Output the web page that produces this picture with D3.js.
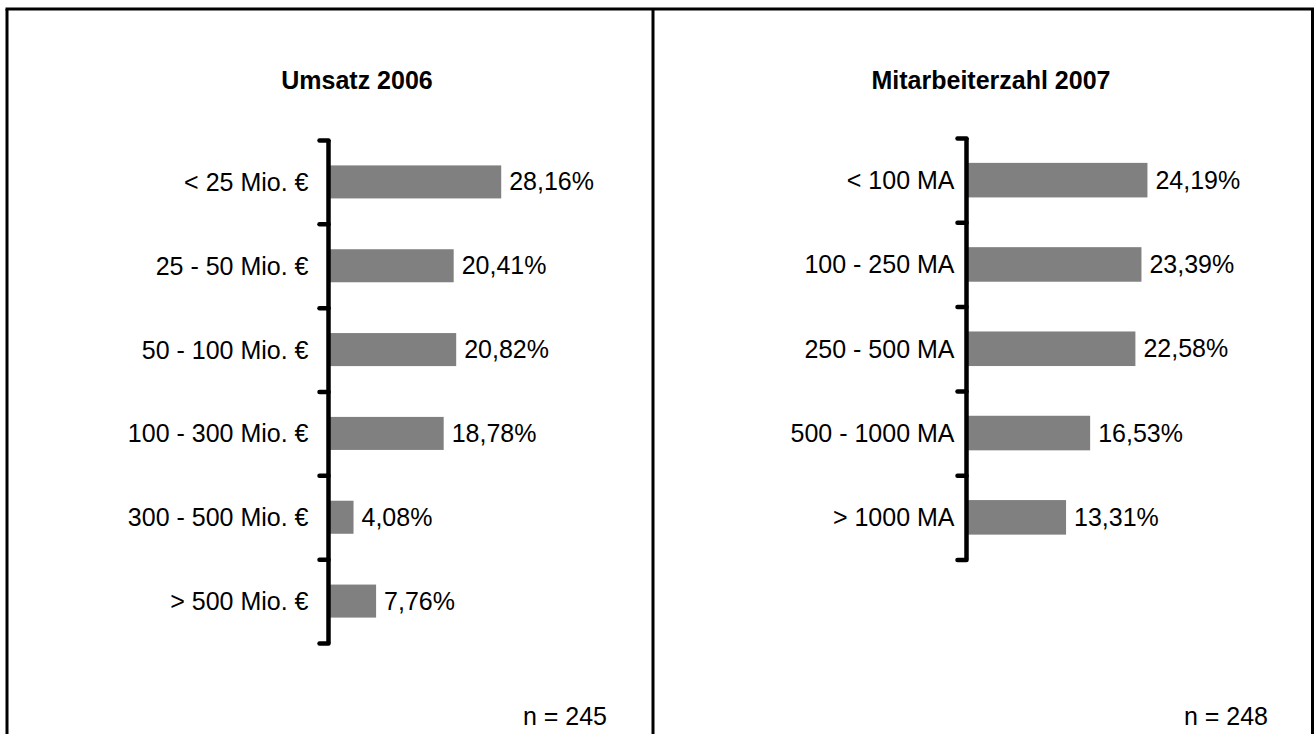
<!DOCTYPE html>
<html>
<head>
<meta charset="utf-8">
<script src="https://cdn.jsdelivr.net/npm/d3@7"></script>
<style>
  html, body { margin: 0; padding: 0; background: #fff; }
  svg { display: block; }
  text { font-family: "Liberation Sans", Arial, sans-serif; fill: #000; }
</style>
</head>
<body>
<svg id="chart" width="1314" height="734"></svg>
<script>
// ---- data ----
const umsatzTitle = "Umsatz 2006";
const umsatzCategories = ["< 25 Mio. €", "25 - 50 Mio. €", "50 - 100 Mio. €", "100 - 300 Mio. €", "300 - 500 Mio. €", "> 500 Mio. €"];
const umsatzValues = [28.16, 20.41, 20.82, 18.78, 4.08, 7.76];
const umsatzN = "n = 245";

const maTitle = "Mitarbeiterzahl 2007";
const maCategories = ["< 100 MA", "100 - 250 MA", "250 - 500 MA", "500 - 1000 MA", "> 1000 MA"];
const maValues = [24.19, 23.39, 22.58, 16.53, 13.31];
const maN = "n = 248";

// ---- rendering ----
const svg = d3.select("#chart");
const locale = d3.formatLocale({decimal: ",", thousands: ".", grouping: [3], currency: ["", " €"]});
const fmt = v => locale.format(".2f")(v) + "%";
const FS = 25;

// frame
const frame = svg.append("g").attr("stroke", "#000").attr("stroke-width", 3).attr("fill", "none");
frame.append("line").attr("x1", 5.5).attr("x2", 1314).attr("y1", 9).attr("y2", 9);
frame.append("line").attr("x1", 7).attr("x2", 7).attr("y1", 9).attr("y2", 734);
frame.append("line").attr("x1", 653).attr("x2", 653).attr("y1", 9).attr("y2", 734);
frame.append("line").attr("x1", 1312.5).attr("x2", 1312.5).attr("y1", 9).attr("y2", 734);

function panel(cfg) {
  const g = svg.append("g");
  const n = cfg.categories.length;
  const x = d3.scaleLinear().domain([0, cfg.xMax]).range([cfg.axisX, cfg.axisX + cfg.plotW]);
  const yBand = d3.scaleBand().domain(cfg.categories).range([cfg.top, cfg.bottom])
    .paddingInner(cfg.pad).paddingOuter(cfg.pad / 2);
  const yTicks = d3.scaleLinear().domain([0, n]).range([cfg.top, cfg.bottom]);

  // title
  g.append("text").attr("x", cfg.titleX).attr("y", 89)
    .attr("text-anchor", "middle").attr("font-weight", "bold").attr("font-size", FS)
    .text(cfg.title);

  // bars
  g.selectAll("rect.bar").data(cfg.values).join("rect")
    .attr("class", "bar")
    .attr("x", x(0))
    .attr("y", (d, i) => yBand(cfg.categories[i]))
    .attr("width", d => x(d) - x(0))
    .attr("height", yBand.bandwidth())
    .attr("fill", "#808080");

  // axis (ticks at category boundaries)
  const axis = d3.axisLeft(yTicks).tickValues(d3.range(n + 1)).tickSize(9).tickSizeOuter(0).tickFormat("");
  const ag = g.append("g").attr("transform", `translate(${cfg.axisX},0)`).call(axis);
  ag.select(".domain").attr("stroke", "#000").attr("stroke-width", 4.5).attr("d", `M0,${cfg.top}V${cfg.bottom}`);
  ag.selectAll(".tick line").attr("stroke", "#000").attr("stroke-width", 4.5).attr("stroke-linecap", "round");

  // category labels
  g.selectAll("text.cat").data(cfg.categories).join("text")
    .attr("class", "cat")
    .attr("x", cfg.axisX - cfg.labelGap)
    .attr("y", d => yBand(d) + yBand.bandwidth() / 2)
    .attr("dy", "0.36em")
    .attr("text-anchor", "end").attr("font-size", FS)
    .text(d => d);

  // value labels
  g.selectAll("text.val").data(cfg.values).join("text")
    .attr("class", "val")
    .attr("x", d => x(d) + 8)
    .attr("y", (d, i) => yBand(cfg.categories[i]) + yBand.bandwidth() / 2)
    .attr("dy", "0.34em")
    .attr("font-size", FS)
    .text(d => fmt(d));

  // n label
  g.append("text").attr("x", cfg.nX).attr("y", 725).attr("text-anchor", "end").attr("font-size", FS)
    .text(cfg.n);
}

panel({
  title: umsatzTitle, categories: umsatzCategories, values: umsatzValues, n: umsatzN,
  titleX: 357, axisX: 328.5, plotW: 184, xMax: 30, top: 140, bottom: 643, pad: 0.606,
  labelGap: 20, nX: 607
});
panel({
  title: maTitle, categories: maCategories, values: maValues, n: maN,
  titleX: 991, axisX: 966.5, plotW: 187, xMax: 25, top: 138, bottom: 559.5, pad: 0.59,
  labelGap: 12, nX: 1268
});
</script>
</body>
</html>
